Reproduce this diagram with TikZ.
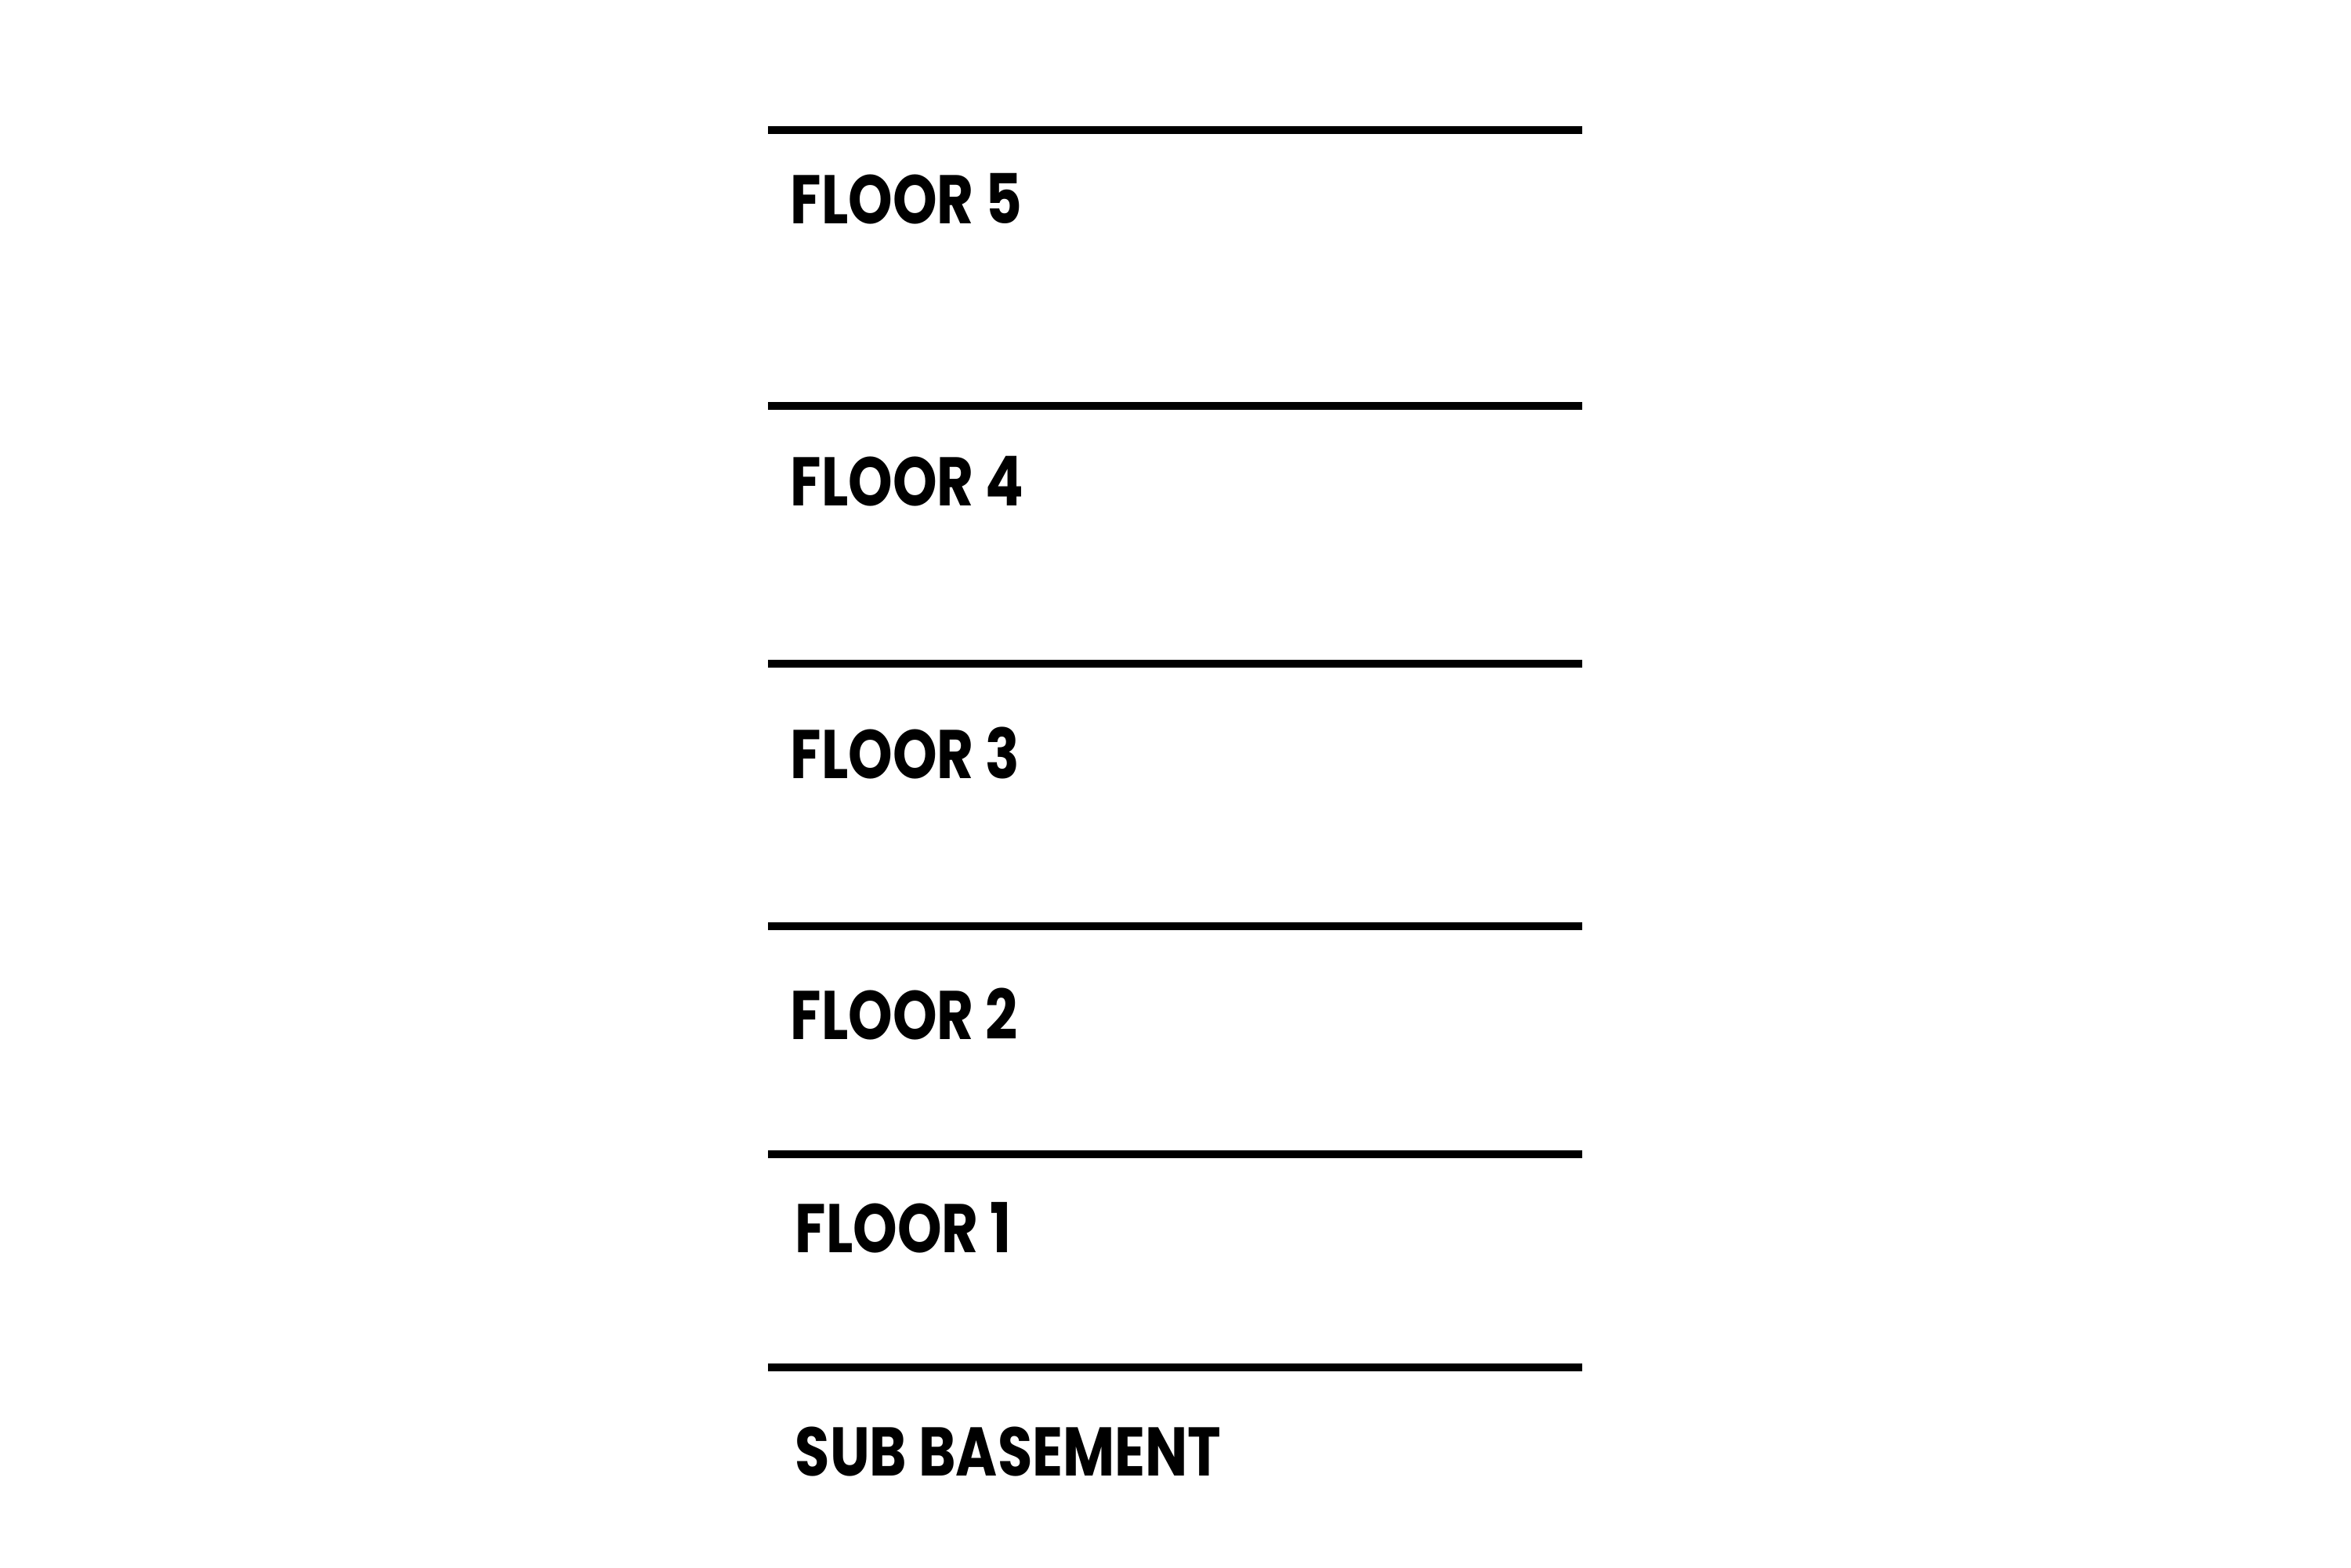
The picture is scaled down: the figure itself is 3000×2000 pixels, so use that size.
\documentclass[tikz,border=0pt]{standalone}
\usepackage{fontspec}
\newfontfamily\floorfont{Poppins}[UprightFont=* Bold, FakeStretch=0.82]
\usepackage{tikz}
\usetikzlibrary{positioning}

\begin{document}
\begin{tikzpicture}[
  x=0.1mm, y=-0.1mm,
  slab/.style={line width=3.1pt, black},
  lbl/.style={anchor=base west, inner sep=0pt, font=\floorfont\fontsize{25}{25}\selectfont}
]
  \useasboundingbox (0,0) rectangle (3000,2000);

  % floor slabs
  \draw[slab] (980,166) -- (2019,166);
  \draw[slab] (980,518) -- (2019,518);
  \draw[slab] (980,847) -- (2019,847);
  \draw[slab] (980,1182) -- (2019,1182);
  \draw[slab] (980,1473) -- (2019,1473);
  \draw[slab] (980,1745) -- (2019,1745);

  % labels
  \node[lbl] (floor5) at (1008,285)  {FLOOR 5};
  \node[lbl] (floor4) at (1008,645)  {FLOOR 4};
  \node[lbl] (floor3) at (1008,993)  {FLOOR 3};
  \node[lbl] (floor2) at (1008,1326) {FLOOR 2};
  \node[lbl] (floor1) at (1014,1598) {FLOOR 1};
  \node[lbl] (subbase) at (1014,1883) {SUB BASEMENT};
\end{tikzpicture}
\end{document}
